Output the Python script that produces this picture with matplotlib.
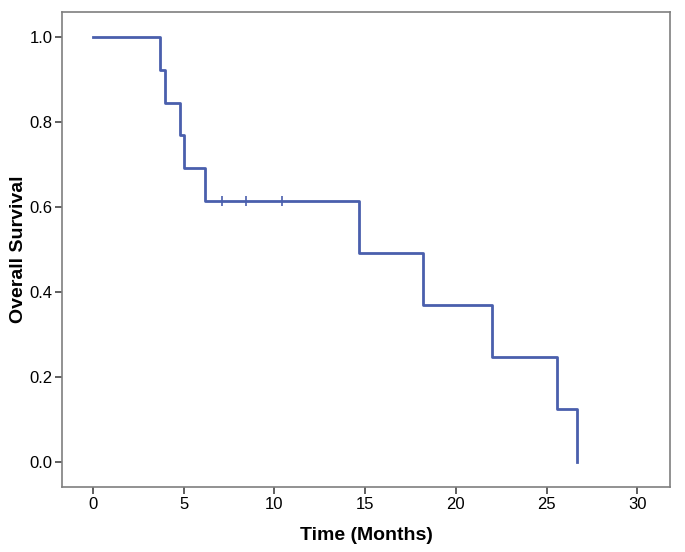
import numpy as np
import matplotlib
matplotlib.use('Agg')
import matplotlib.pyplot as plt

plt.rcParams['font.family'] = ['Liberation Sans', 'DejaVu Sans']

# Kaplan-Meier step data
event_times = [0, 3.7, 3.97, 4.8, 5.02, 6.18, 14.67, 18.2, 22.0, 25.6, 26.7]
survival = [1.0, 0.923, 0.846, 0.769, 0.692, 0.615, 0.492, 0.369, 0.246, 0.123, 0.0]
censor_times = [7.1, 8.44, 10.4]
censor_surv = [0.615, 0.615, 0.615]

line_col = '#4A5FAD'

fig = plt.figure(figsize=(6.85, 5.52), dpi=100)
ax = fig.add_axes([62/685, 1 - 487/552, (670-62)/685, (487-12)/552])

ax.step(event_times, survival, where='post', color=line_col, lw=2)
ax.plot(censor_times, censor_surv, ls='none', marker='|', ms=7, mew=1.2, color=line_col)

ax.set_xlim(-1.7, 31.8)
ax.set_ylim(-0.06, 1.06)
ax.set_xticks([0, 5, 10, 15, 20, 25, 30])
ax.set_yticks([0.0, 0.2, 0.4, 0.6, 0.8, 1.0])
ax.set_yticklabels(['0.0', '0.2', '0.4', '0.6', '0.8', '1.0'])

for s in ax.spines.values():
    s.set_color('#7f7f7f')
    s.set_linewidth(1.2)
ax.tick_params(direction='out', length=5, width=1.2, color='#444444', labelsize=12, pad=2)

ax.set_xlabel('Time (Months)', fontsize=14, fontweight='bold', labelpad=11)
ax.set_ylabel('Overall Survival', fontsize=14, fontweight='bold', labelpad=1.5)

fig.savefig('out.png', dpi=100)
